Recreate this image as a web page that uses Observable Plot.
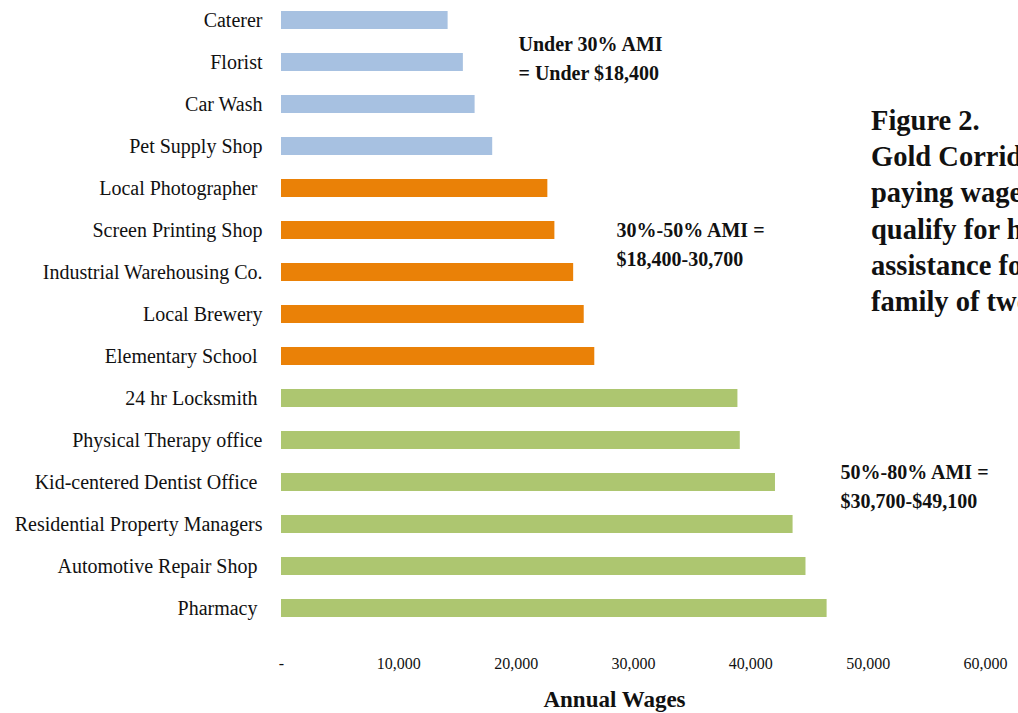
<!DOCTYPE html>
<html>
<head>
<meta charset="utf-8">
<script src="https://cdn.jsdelivr.net/npm/d3@7"></script>
<script src="https://cdn.jsdelivr.net/npm/@observablehq/plot@0.6"></script>
<style>
  html, body { margin: 0; padding: 0; background: #fff; overflow: hidden; }
  #wrap { position: relative; width: 1018px; height: 713px; overflow: hidden; }
  #fig { position: absolute; left: 871px; top: 103px; width: 147px; overflow: hidden;
         font-family: "Liberation Serif", serif; font-weight: bold;
         font-size: 28.5px; line-height: 36.2px; white-space: nowrap; color: #111; }
</style>
</head>
<body>
<div id="wrap">
  <div id="chart"></div>
  <div id="fig"></div>
</div>
<script>
const categories = [
  "Caterer", "Florist", "Car Wash", "Pet Supply Shop",
  "Local Photographer\u00a0", "Screen Printing Shop", "Industrial Warehousing Co.", "Local Brewery", "Elementary School\u00a0",
  "24 hr Locksmith\u00a0", "Physical Therapy office", "Kid-centered Dentist Office\u00a0", "Residential Property Managers",
  "Automotive Repair Shop\u00a0", "Pharmacy\u00a0"
];
const wages = [14200, 15500, 16500, 18000, 22700, 23300, 24900, 25800, 26700, 38900, 39100, 42100, 43600, 44700, 46500];
const tiers = ["Under 30%", "Under 30%", "Under 30%", "Under 30%",
  "30%-50%", "30%-50%", "30%-50%", "30%-50%", "30%-50%",
  "50%-80%", "50%-80%", "50%-80%", "50%-80%", "50%-80%", "50%-80%"];
const tierNames = ["Under 30%", "30%-50%", "50%-80%"];
const tierColors = ["#a7c1e1", "#ea8107", "#adc670"];
const xTicks = [0, 10000, 20000, 30000, 40000, 50000, 60000];
const xLabel = "Annual Wages";
const noteTexts = ["Under 30% AMI\n= Under $18,400", "30%-50% AMI =\n$18,400-30,700", "50%-80% AMI =\n$30,700-$49,100"];
const noteX = [20200, 28550, 47640];
const noteY = ["Florist", "Screen Printing Shop", "Kid-centered Dentist Office\u00a0"];
const figLines = ["Figure 2.", "Gold Corridor businesses", "paying wages that", "qualify for housing", "assistance for a", "family of two"];

const rows = categories.map((c, i) => ({category: c, wage: wages[i], tier: tiers[i]}));
const notes = noteTexts.map((t, i) => ({text: t, x: noteX[i], y: noteY[i]}));
const noteShift = [-6, 12, 2];
const fmt = d3.format(",");

const chart = Plot.plot({
  width: 1018,
  height: 713,
  marginLeft: 281,
  marginRight: 33,
  marginTop: 3.5,
  marginBottom: 88,
  style: {fontFamily: "'Liberation Serif', serif", fontSize: "17px", background: "#fff", color: "#111"},
  x: {domain: [0, 60000]},
  y: {domain: categories, paddingInner: 0.58, paddingOuter: 0.1},
  color: {domain: tierNames, range: tierColors},
  marks: [
    Plot.barX(rows, {x: "wage", y: "category", fill: "tier"}),
    Plot.axisY({tickSize: 0, tickPadding: 19, label: null, fontSize: 20}),
    Plot.axisX({ticks: xTicks, tickSize: 0, tickPadding: 32, label: null, fontSize: 16,
                tickFormat: d => d === 0 ? "-" : fmt(d)}),
    ...notes.map((n, i) => Plot.text([n], {x: "x", y: "y", text: "text", textAnchor: "start", lineAnchor: "middle",
                      fontWeight: "bold", fontSize: 20, lineHeight: 1.45, dy: noteShift[i]})),
    Plot.text([xLabel], {frameAnchor: "bottom", dy: 81, dx: -19, fontWeight: "bold", fontSize: 23, text: d => d})
  ]
});
document.getElementById("chart").appendChild(chart);
document.getElementById("fig").innerHTML = figLines.map(l => `<div>${l}</div>`).join("");
</script>
</body>
</html>
